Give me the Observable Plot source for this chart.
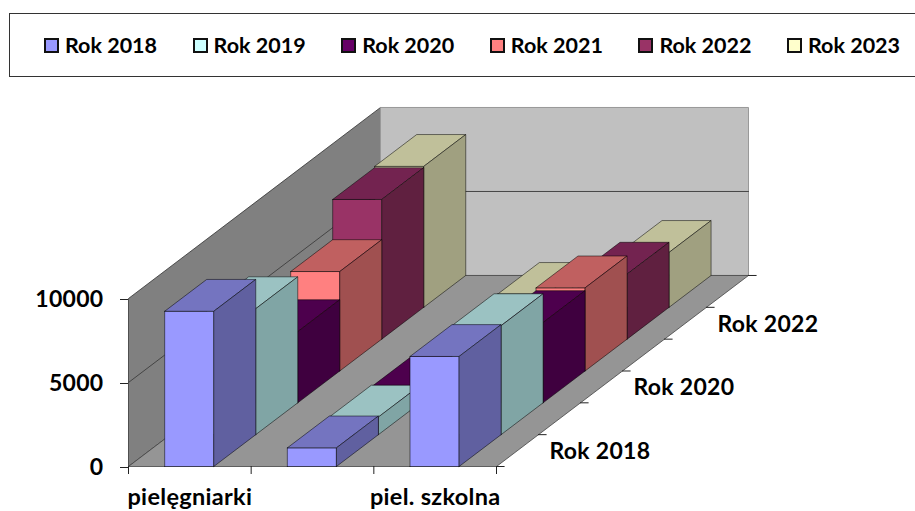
<!DOCTYPE html>
<html><head><meta charset="utf-8">
<script src="https://cdn.jsdelivr.net/npm/d3@7"></script>
<script src="https://cdn.jsdelivr.net/npm/@observablehq/plot@0.6"></script>
<style>
html,body{margin:0;padding:0;background:#fff;overflow:hidden;width:915px;height:511px}
#legend{position:relative;height:90px;width:915px;overflow:hidden}
#box{position:absolute;left:9px;top:13px;width:930px;height:62px;border:1px solid #333}
.it{position:absolute;top:30px;height:30px;display:flex;align-items:center;font:700 21.5px Lato,sans-serif;color:#000;white-space:nowrap}
.sw{width:11px;height:11px;border:2px solid #111;margin-right:6px;flex:none}
svg{display:block}
</style></head><body>
<div id="legend"><div id="box"></div></div>
<div id="chart"></div>
<script>
const categories = ["pielęgniarki", "", "piel. szkolna"];
const years = ["Rok 2018", "Rok 2019", "Rok 2020", "Rok 2021", "Rok 2022", "Rok 2023"];
const rok2018 = [9240, 1110, 6550];
const rok2019 = [7500, 1050, 6490];
const rok2020 = [4240, 950, 4780];
const rok2021 = [5920, 900, 4950];
const rok2022 = [8315, 800, 3870];
const rok2023 = [8390, 770, 3270];
const series = [rok2018, rok2019, rok2020, rok2021, rok2022, rok2023];
const frontColors = ["#9999ff", "#ccffff", "#660066", "#ff8080", "#993366", "#ffffcc"];
const topColors = ["#7474c0", "#9bc2c2", "#4d004d", "#c06060", "#732350", "#c0c09a"];
const sideColors = ["#6060a0", "#80a5a5", "#3f003f", "#a05050", "#602040", "#a0a080"];
const valueTicks = [0, 5000, 10000];
const depthLabels = [0, 2, 4];

// oblique projection: one series step of depth, in category units and value units
const depthX = 0.3424, depthY = 1895;
const pt = (c, s, v) => ({x: c + s * depthX, y: v + s * depthY});
const poly = (corners) => [...corners, corners[0]].map(([c, s, v]) => pt(c, s, v));
const face = (corners, fill, stroke = "#000", strokeOpacity = 0.5) =>
  Plot.line(poly(corners), {x: "x", y: "y", fill, stroke, strokeOpacity, strokeWidth: 1});

const C = categories.length, S = years.length, V = 10000;
const marks = [
  face([[0,0,0],[0,0,V],[0,S,V],[0,S,0]], "#808080", "#333", 0.8),
  face([[0,S,0],[0,S,V],[C,S,V],[C,S,0]], "#c0c0c0", "#999", 1),
  face([[0,0,0],[C,0,0],[C,S,0],[0,S,0]], "#959595", "#444", 0.8),
  Plot.line([pt(0,0,5000), pt(0,S,5000), pt(C,S,5000)], {x:"x", y:"y", stroke:"#444", strokeWidth:1})
];

for (let s = S - 1; s >= 0; s--) {
  series[s].forEach((v, i) => {
    const a = i + 0.295, b = i + 0.695;
    marks.push(face([[a,s,0],[b,s,0],[b,s,v],[a,s,v]], frontColors[s]));
    marks.push(face([[a,s,v],[b,s,v],[b,s+1,v],[a,s+1,v]], topColors[s]));
    marks.push(face([[b,s,0],[b,s+1,0],[b,s+1,v],[b,s,v]], sideColors[s]));
  });
}

const tickLen = 0.07;
const depthTicks = d3.range(S + 1).map(s => ({x1: pt(C,s,0).x, x2: pt(C,s,0).x + tickLen, y: pt(C,s,0).y}));
marks.push(Plot.ruleY(depthTicks, {x1:"x1", x2:"x2", y:"y", stroke:"#222"}));
marks.push(Plot.axisY({ticks: valueTicks, tickSize: 8, tickPadding: 17, tickFormat: "d", label: null, fontSize: 23, fontWeight: 700, stroke: "#222", fill:"#000", dy: 1}));
marks.push(Plot.axisX({ticks: d3.range(C + 1), tickSize: 8, tickFormat: () => "", label: null, stroke: "#222"}));
marks.push(Plot.text(categories.map((t, i) => ({t, c: i + 0.5})).filter(d => d.t), {
  x: "c", y: () => 0, text: "t", dy: 31, fontSize: 23.5, fontWeight: 700, fill: "#000"}));
marks.push(Plot.text(depthLabels.map(s => ({t: years[s], ...pt(C, s + 0.5, 0)})), {
  x: "x", y: "y", text: "t", dx: 32, dy: 1, textAnchor: "start", fontSize: 23, fontWeight: 700, fill: "#000"}));

const chart = Plot.plot({
  width: 915, height: 421,
  marginLeft: 128, marginRight: 419, marginTop: 208, marginBottom: 45,
  x: {domain: [0, C], axis: null},
  y: {domain: [0, V], axis: null},
  style: {fontFamily: "Lato, sans-serif", background: "transparent", overflow: "visible", letterSpacing: "0.3px"},
  marks
});
document.getElementById("chart").append(chart);

const legend = document.getElementById("legend");
years.forEach((y, i) => {
  const it = document.createElement("div");
  it.className = "it";
  it.style.left = (44 + i * 148.6) + "px";
  const sw = document.createElement("span");
  sw.className = "sw";
  sw.style.background = frontColors[i];
  it.append(sw, y);
  legend.append(it);
});
</script>
</body></html>
